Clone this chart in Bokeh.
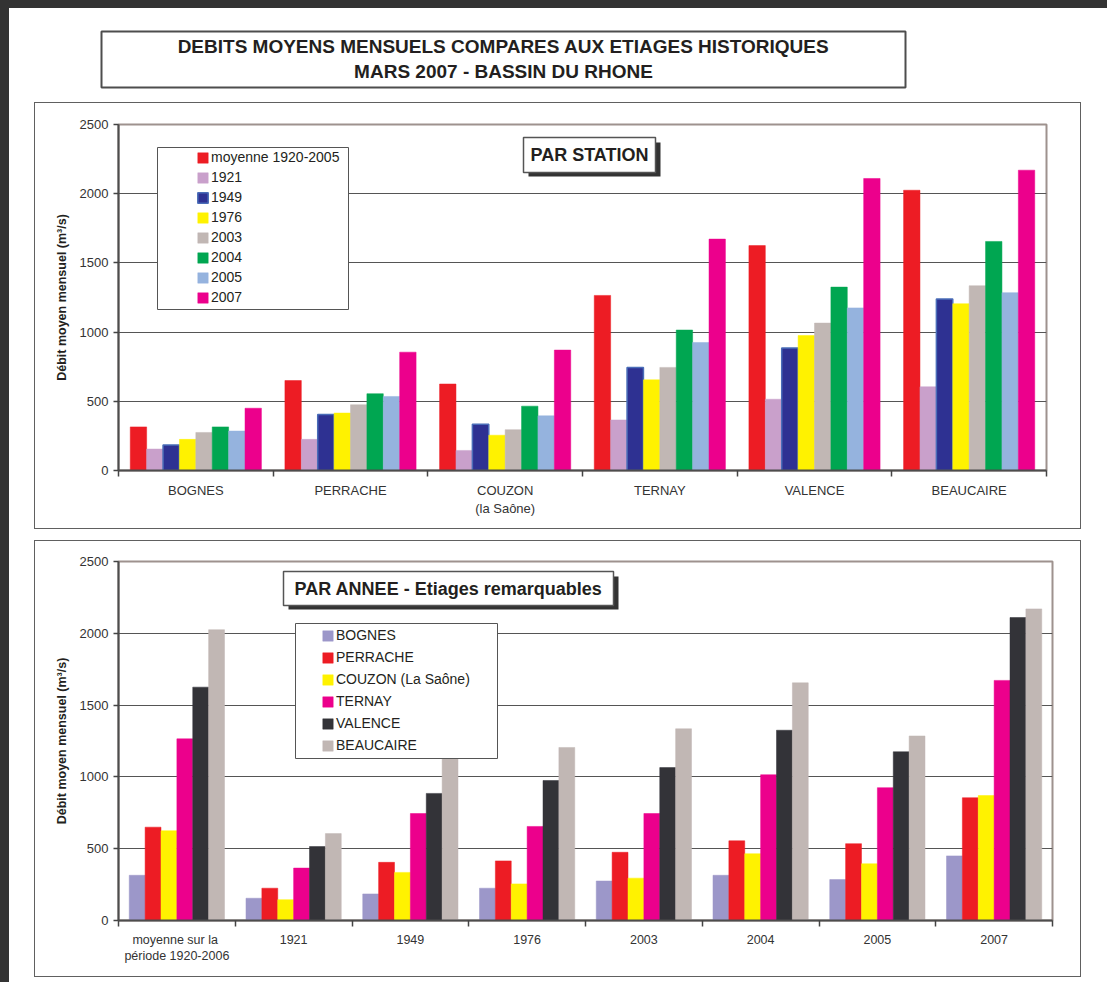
import numpy as np
from bokeh.plotting import figure
from bokeh.models import (Range1d, FixedTicker, BoxAnnotation, Label, Legend,
                          LegendItem, ColumnDataSource)
from bokeh.layouts import column
from bokeh.embed import file_html
from bokeh.resources import INLINE

# ---------------- data ----------------
stations = ["BOGNES", "PERRACHE", "COUZON\n(la Saône)", "TERNAY", "VALENCE", "BEAUCAIRE"]
station_legend = ["BOGNES", "PERRACHE", "COUZON (La Saône)", "TERNAY", "VALENCE", "BEAUCAIRE"]
years = ["moyenne 1920-2005", "1921", "1949", "1976", "2003", "2004", "2005", "2007"]
year_ticks = ["moyenne  sur la\npériode 1920-2006", "1921", "1949", "1976",
              "2003", "2004", "2005", "2007"]

# monthly mean flow (m3/s) for each year series, per station
moyenne = [315, 650, 625, 1265, 1625, 2025]
v1921 = [155, 225, 145, 365, 515, 605]
v1949 = [185, 405, 335, 745, 885, 1240]
v1976 = [225, 415, 255, 655, 975, 1205]
v2003 = [275, 475, 295, 745, 1065, 1335]
v2004 = [315, 555, 465, 1015, 1325, 1655]
v2005 = [285, 535, 395, 925, 1175, 1285]
v2007 = [450, 855, 870, 1672, 2110, 2170]
series = [moyenne, v1921, v1949, v1976, v2003, v2004, v2005, v2007]

year_colors = ["#ed1c24", "#c9a0cb", "#2e3192", "#fff200", "#c1b7b4", "#00a651", "#95b3de", "#ec008c"]
year_lines = [None, None, "#4a6db8", None, None, None, None, None]
station_colors = ["#9c97c9", "#ed1c24", "#fff200", "#ec008c", "#333338", "#c1b7b4"]

FONT = "Liberation Sans"
BOX = dict(left_units="screen", right_units="screen", top_units="screen", bottom_units="screen")


def style_axes(p, n, labels, lab_size):
    p.xaxis.ticker = FixedTicker(ticks=[i + 0.5 for i in range(n)],
                                 minor_ticks=list(range(n + 1)))
    p.xaxis.major_label_overrides = {i + 0.5: labels[i] for i in range(n)}
    p.xaxis.major_tick_line_color = None
    p.xaxis.major_tick_out = 0
    p.xaxis.major_tick_in = 0
    p.xaxis.minor_tick_out = 6
    p.xaxis.minor_tick_in = 0
    p.xaxis.minor_tick_line_color = "#444444"
    p.xaxis.minor_tick_line_width = 1.5
    p.xaxis.major_label_standoff = 6
    p.xaxis.major_label_text_font = FONT
    p.xaxis.major_label_text_font_size = lab_size
    p.xaxis.major_label_text_color = "#333333"
    p.xaxis.axis_line_color = "#4d4d4d"
    p.xaxis.axis_line_width = 2

    p.yaxis.ticker = FixedTicker(ticks=[0, 500, 1000, 1500, 2000, 2500])
    p.yaxis.major_tick_out = 5
    p.yaxis.major_tick_in = 0
    p.yaxis.major_tick_line_color = "#444444"
    p.yaxis.major_tick_line_width = 1.5
    p.yaxis.minor_tick_line_color = None
    p.yaxis.major_label_standoff = 5
    p.yaxis.major_label_text_font = FONT
    p.yaxis.major_label_text_font_size = "13px"
    p.yaxis.major_label_text_color = "#333333"
    p.yaxis.axis_line_color = "#4d4d4d"
    p.yaxis.axis_line_width = 2
    p.yaxis.axis_label = "Débit moyen mensuel (m³/s)"
    p.yaxis.axis_label_text_font = FONT
    p.yaxis.axis_label_text_font_size = "12.5px"
    p.yaxis.axis_label_text_font_style = "bold"
    p.yaxis.axis_label_text_color = "#231f20"
    p.yaxis.axis_label_standoff = 8

    p.xgrid.grid_line_color = None
    p.ygrid.ticker = FixedTicker(ticks=[500, 1000, 1500, 2000])
    p.ygrid.grid_line_color = "#555555"
    p.ygrid.grid_line_width = 1
    p.outline_line_color = "#9e928e"
    p.outline_line_width = 2


def boxed_title(p, fl, fb, x0, x1, y0, y1, text):
    # fl, fb: page position of the frame's left and bottom edges
    p.add_layout(BoxAnnotation(left=x0 + 5 - fl, right=x1 + 5 - fl, top=fb - y0 - 5, bottom=fb - y1 - 4,
                               fill_color="#333333", fill_alpha=1, line_color=None, **BOX))
    p.add_layout(BoxAnnotation(left=x0 - fl, right=x1 - fl, top=fb - y0, bottom=fb - y1,
                               fill_color="white", fill_alpha=1, line_color="#555555",
                               line_alpha=1, line_width=1.5, **BOX))
    p.add_layout(Label(x=(x0 + x1) / 2 - fl, y=fb - (y0 + y1) / 2, x_units="screen", y_units="screen",
                       text=text, text_align="center", text_baseline="middle",
                       text_font=FONT, text_font_style="bold", text_font_size="18px",
                       text_color="#231f20"))


FRAME_STYLE = {"outline": "1px solid #606060", "box-shadow": "1px 1px 0 0 #333333"}

# ---------------- header ----------------
head = figure(width=1098, height=87, x_range=Range1d(9, 1107), y_range=Range1d(95, 8),
              output_backend="svg", toolbar_location=None, title=None,
              x_axis_location=None, y_axis_location=None, min_border=0)
head.frame_align = False
head.margin = (8, 0, 0, 9)
head.grid.grid_line_color = None
head.outline_line_color = None
head.add_layout(BoxAnnotation(left=101, right=905, top=31, bottom=87, fill_color="white",
                              fill_alpha=1, line_color="#4d4d4d", line_alpha=1, line_width=2))
head.add_layout(Label(x=503, y=46, text="DEBITS MOYENS MENSUELS COMPARES AUX ETIAGES HISTORIQUES",
                      text_align="center", text_baseline="middle", text_font=FONT,
                      text_font_style="bold", text_font_size="19px", text_color="#231f20"))
head.add_layout(Label(x=503, y=71, text="MARS 2007 - BASSIN DU RHONE",
                      text_align="center", text_baseline="middle", text_font=FONT,
                      text_font_style="bold", text_font_size="19px", text_color="#231f20"))

# ---------------- top chart: par station ----------------
p1 = figure(width=1045, height=425, x_range=Range1d(0, len(stations)), y_range=Range1d(0, 2500),
            output_backend="svg", toolbar_location=None, title=None,
            min_border_left=83, min_border_right=34, min_border_top=21, min_border_bottom=58)
p1.frame_align = False
p1.margin = (8, 0, 0, 35)
p1.styles = FRAME_STYLE
style_axes(p1, len(stations), stations, "13px")
bw1 = 0.106
items1 = []
for j, (name, vals) in enumerate(zip(years, series)):
    xs = [i + 0.5 + (j - (len(years) - 1) / 2) * bw1 for i in range(len(stations))]
    src = ColumnDataSource(dict(x=xs, top=vals))
    lc = year_lines[j] if year_lines[j] else year_colors[j]
    r = p1.vbar(x="x", top="top", bottom=0, width=bw1, source=src,
                fill_color=year_colors[j], line_color=lc, line_width=1.5 if year_lines[j] else 0.5)
    items1.append(LegendItem(label=name, renderers=[r]))

FL1, FB1 = 118, 470
p1.add_layout(BoxAnnotation(left=157 - FL1, right=348 - FL1, top=FB1 - 147, bottom=FB1 - 309,
                            fill_color="white", fill_alpha=1, line_color="#555555", line_alpha=1,
                            line_width=1, **BOX))
leg1 = Legend(items=items1, location=(78, 165), orientation="vertical",
              glyph_width=13, glyph_height=13, label_height=13, spacing=4, padding=0,
              label_standoff=2, border_line_color=None, background_fill_alpha=0,
              label_text_font=FONT, label_text_font_size="14px", label_text_color="#231f20")
p1.add_layout(leg1, "center")
boxed_title(p1, FL1, FB1, 523, 655, 137, 172, "PAR STATION")

# ---------------- bottom chart: par année ----------------
p2 = figure(width=1045, height=435, x_range=Range1d(0, len(years)), y_range=Range1d(0, 2500),
            output_backend="svg", toolbar_location=None, title=None,
            min_border_left=83, min_border_right=28, min_border_top=20, min_border_bottom=56)
p2.frame_align = False
p2.margin = (13, 0, 6, 35)
p2.styles = FRAME_STYLE
style_axes(p2, len(years), year_ticks, "12.5px")
bw2 = 0.136
items2 = []
for k, name in enumerate(station_legend):
    vals = [s[k] for s in series]
    xs = [i + 0.5 + (k - (len(stations) - 1) / 2) * bw2 for i in range(len(years))]
    src = ColumnDataSource(dict(x=xs, top=vals))
    r = p2.vbar(x="x", top="top", bottom=0, width=bw2, source=src,
                fill_color=station_colors[k], line_color=station_colors[k], line_width=0.5)
    items2.append(LegendItem(label=name, renderers=[r]))

FL2, FB2 = 118, 920
boxed_title(p2, FL2, FB2, 283, 613, 571, 605, "PAR ANNEE - Etiages remarquables")
p2.add_layout(BoxAnnotation(left=295 - FL2, right=497 - FL2, top=FB2 - 623, bottom=FB2 - 758,
                            fill_color="white", fill_alpha=1, line_color="#555555", line_alpha=1,
                            line_width=1, **BOX))
leg2 = Legend(items=items2, location=(203, 167), orientation="vertical",
              glyph_width=13, glyph_height=13, label_height=13, spacing=6, padding=0,
              label_standoff=2, border_line_color=None, background_fill_alpha=0,
              label_text_font=FONT, label_text_font_size="14px", label_text_color="#231f20")
p2.add_layout(leg2, "center")

root = column(head, p1, p2, spacing=0,
              styles={"box-shadow": "inset 9px 8px 0 0 #333333", "background": "white"})
open("out.html", "w").write(file_html(root, INLINE))
